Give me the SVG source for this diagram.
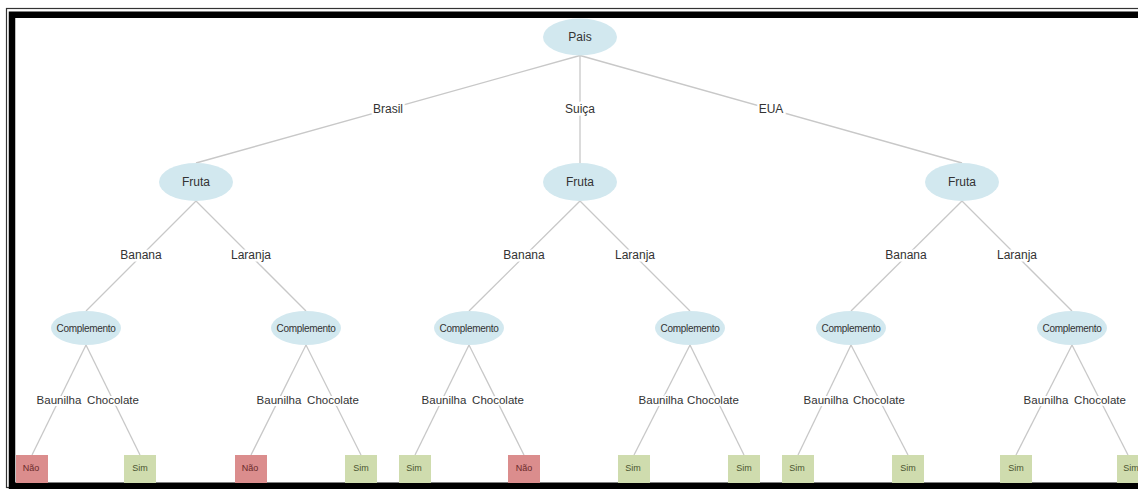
<svg xmlns="http://www.w3.org/2000/svg" width="1138" height="489" viewBox="0 0 1138 489">
<style>
.e{stroke:#c8c8c8;stroke-width:1.3;fill:none}
.n{fill:#d2e8ef;stroke:none}
.t{font-family:"Liberation Sans",Arial,sans-serif;fill:#333;text-anchor:middle}
.lb{font-size:12px;stroke:#fff;stroke-width:5;paint-order:stroke;stroke-linejoin:round}
.lb2{font-size:11.5px;stroke:#fff;stroke-width:4;paint-order:stroke;stroke-linejoin:round}
.nt{font-size:12px}
.ct{font-size:10px;letter-spacing:-0.3px}
.sim{fill:#cfdcae}
.nao{fill:#db8d8d}
.st{font-size:9px;fill:#4a5530}
.ntx{font-size:9px;fill:#6a2a2a}
</style>
<rect x="0" y="0" width="1138" height="489" fill="#fff"/>
<g id="frame">
<rect x="6.5" y="8.5" width="1200" height="479" fill="none" stroke="#333" stroke-width="1.2"/>
<rect x="12" y="14.75" width="1200" height="471" fill="none" stroke="#000" stroke-width="6.5"/>
</g>
<g id="connectors">
<line class="e" x1="580" y1="55.5" x2="196" y2="163"/>
<line class="e" x1="580" y1="55.5" x2="580" y2="163"/>
<line class="e" x1="580" y1="55.5" x2="962" y2="163"/>
<line class="e" x1="196" y1="201" x2="86" y2="311"/>
<line class="e" x1="196" y1="201" x2="306" y2="311"/>
<line class="e" x1="580" y1="201" x2="469" y2="311"/>
<line class="e" x1="580" y1="201" x2="690" y2="311"/>
<line class="e" x1="962" y1="201" x2="851" y2="311"/>
<line class="e" x1="962" y1="201" x2="1072" y2="311"/>
<line class="e" x1="86" y1="345" x2="32" y2="455"/>
<line class="e" x1="86" y1="345" x2="140" y2="455"/>
<line class="e" x1="306" y1="345" x2="251" y2="455"/>
<line class="e" x1="306" y1="345" x2="361" y2="455"/>
<line class="e" x1="469" y1="345" x2="415" y2="455"/>
<line class="e" x1="469" y1="345" x2="524" y2="455"/>
<line class="e" x1="690" y1="345" x2="634" y2="455"/>
<line class="e" x1="690" y1="345" x2="744" y2="455"/>
<line class="e" x1="851" y1="345" x2="798" y2="455"/>
<line class="e" x1="851" y1="345" x2="908" y2="455"/>
<line class="e" x1="1072" y1="345" x2="1016" y2="455"/>
<line class="e" x1="1072" y1="345" x2="1128" y2="455"/>
<text class="t lb" x="388" y="113">Brasil</text>
<text class="t lb" x="580" y="113">Suiça</text>
<text class="t lb" x="771" y="113">EUA</text>
<text class="t lb" x="141" y="259">Banana</text>
<text class="t lb" x="251" y="259">Laranja</text>
<text class="t lb" x="524" y="259">Banana</text>
<text class="t lb" x="635" y="259">Laranja</text>
<text class="t lb" x="906" y="259">Banana</text>
<text class="t lb" x="1017" y="259">Laranja</text>
<text class="t lb2" x="59" y="404">Baunilha</text>
<text class="t lb2" x="113" y="404">Chocolate</text>
<text class="t lb2" x="279" y="404">Baunilha</text>
<text class="t lb2" x="333" y="404">Chocolate</text>
<text class="t lb2" x="444" y="404">Baunilha</text>
<text class="t lb2" x="498" y="404">Chocolate</text>
<text class="t lb2" x="661" y="404">Baunilha</text>
<text class="t lb2" x="713" y="404">Chocolate</text>
<text class="t lb2" x="826" y="404">Baunilha</text>
<text class="t lb2" x="879" y="404">Chocolate</text>
<text class="t lb2" x="1046" y="404">Baunilha</text>
<text class="t lb2" x="1100" y="404">Chocolate</text>
</g>
<g id="pais"><ellipse class="n" cx="580" cy="37" rx="37" ry="18.5"/><text class="t nt" x="580" y="41">Pais</text></g>
<g id="fruta-brasil"><ellipse class="n" cx="196" cy="182" rx="37" ry="19"/><text class="t nt" x="196" y="186">Fruta</text></g>
<g id="fruta-suica"><ellipse class="n" cx="580" cy="182" rx="37" ry="19"/><text class="t nt" x="580" y="186">Fruta</text></g>
<g id="fruta-eua"><ellipse class="n" cx="962" cy="182" rx="37" ry="19"/><text class="t nt" x="962" y="186">Fruta</text></g>
<g id="comp-1"><ellipse class="n" cx="86" cy="328" rx="35" ry="17"/><text class="t ct" x="86" y="331.5">Complemento</text></g>
<g id="comp-2"><ellipse class="n" cx="306" cy="328" rx="35" ry="17"/><text class="t ct" x="306" y="331.5">Complemento</text></g>
<g id="comp-3"><ellipse class="n" cx="469" cy="328" rx="35" ry="17"/><text class="t ct" x="469" y="331.5">Complemento</text></g>
<g id="comp-4"><ellipse class="n" cx="690" cy="328" rx="35" ry="17"/><text class="t ct" x="690" y="331.5">Complemento</text></g>
<g id="comp-5"><ellipse class="n" cx="851" cy="328" rx="35" ry="17"/><text class="t ct" x="851" y="331.5">Complemento</text></g>
<g id="comp-6"><ellipse class="n" cx="1072" cy="328" rx="35" ry="17"/><text class="t ct" x="1072" y="331.5">Complemento</text></g>
<g id="leaf-1"><rect class="nao" x="16" y="455" width="32" height="28"/><text class="t ntx" x="31" y="471">Não</text></g>
<g id="leaf-2"><rect class="sim" x="124" y="455" width="32" height="28"/><text class="t st" x="140" y="471">Sim</text></g>
<g id="leaf-3"><rect class="nao" x="235" y="455" width="32" height="28"/><text class="t ntx" x="250" y="471">Não</text></g>
<g id="leaf-4"><rect class="sim" x="345" y="455" width="32" height="28"/><text class="t st" x="361" y="471">Sim</text></g>
<g id="leaf-5"><rect class="sim" x="399" y="455" width="32" height="28"/><text class="t st" x="414" y="471">Sim</text></g>
<g id="leaf-6"><rect class="nao" x="508" y="455" width="32" height="28"/><text class="t ntx" x="524" y="471">Não</text></g>
<g id="leaf-7"><rect class="sim" x="618" y="455" width="32" height="28"/><text class="t st" x="633" y="471">Sim</text></g>
<g id="leaf-8"><rect class="sim" x="728" y="455" width="32" height="28"/><text class="t st" x="744" y="471">Sim</text></g>
<g id="leaf-9"><rect class="sim" x="782" y="455" width="32" height="28"/><text class="t st" x="797" y="471">Sim</text></g>
<g id="leaf-10"><rect class="sim" x="892" y="455" width="32" height="28"/><text class="t st" x="908" y="471">Sim</text></g>
<g id="leaf-11"><rect class="sim" x="1000" y="455" width="32" height="28"/><text class="t st" x="1016" y="471">Sim</text></g>
<g id="leaf-12"><rect class="sim" x="1117" y="455" width="32" height="28"/><text class="t st" x="1131" y="471">Sim</text></g>
</svg>
